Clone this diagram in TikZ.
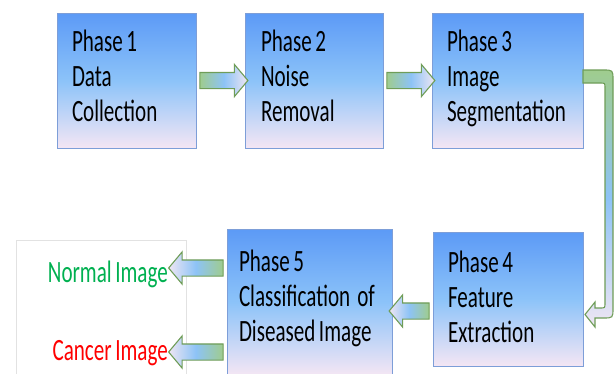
\documentclass[tikz,border=0pt]{standalone}
\usepackage{fontspec}
\usepackage{xcolor}
\usepackage{tikz}
\usetikzlibrary{calc, shapes.arrows}
\newfontfamily\phasefont[FakeStretch=0.68, WordSpace=0.75]{Carlito}

\definecolor{boxtop}{HTML}{5C9AF6}
\definecolor{boxmid}{HTML}{8CC3F9}
\definecolor{boxbot}{HTML}{F4E6F4}
\definecolor{boxedge}{HTML}{7D9ED8}
\definecolor{arrowedge}{HTML}{6F9D58}
\definecolor{arrowgreen}{HTML}{9FCC8E}
\definecolor{arrowblue}{HTML}{8DC3F6}
\definecolor{arrowpale}{HTML}{EFE6F3}
\definecolor{normalgreen}{HTML}{00B050}
\definecolor{cancerred}{HTML}{FF0000}
\definecolor{frameline}{HTML}{E2E2E2}

\tikzset{
  phasebox/.style={draw=boxedge, line width=1pt, top color=boxtop, bottom color=boxbot,
    middle color=boxmid, align=flush left, inner xsep=15pt, inner ysep=2pt,
    minimum height=135pt, text depth=79pt, font=\phasefont\fontsize{31}{35}\selectfont},
  fatarrow/.style={single arrow, draw=arrowedge, line width=1.1pt, inner xsep=0pt,
    inner ysep=7.5pt, single arrow head extend=8pt, single arrow tip angle=100},
  fatright/.style={fatarrow, left color=arrowgreen, right color=arrowpale, middle color=arrowblue},
  fatleft/.style={fatarrow, left color=arrowpale, right color=arrowgreen, middle color=arrowblue},
  outlabel/.style={inner xsep=4pt, inner ysep=0pt, font=\phasefont\fontsize{31}{35}\selectfont},
}

\newcommand{\fatlink}[3][fatright]{%
  \path let \p1=(#2), \p2=(#3), \n1={veclen(\x2-\x1,\y2-\y1)} in
    (#2) -- (#3) node[midway, sloped, allow upside down, #1, minimum height=\n1] {};}

\begin{document}
\begin{tikzpicture}[x=1pt, y=-1pt]
  \useasboundingbox (0,0) rectangle (614,373);

  % phases
  \node[phasebox, text width=109pt] (p1) at (126.5,80.5) {Phase 1\\Data\\Collection};
  \node[phasebox, text width=106pt, inner xsep=16pt] (p2) at (314,80.5) {Phase 2\\Noise\\Removal};
  \node[phasebox, text width=121pt] (p3) at (507.5,80.5) {Phase 3\\Image\\Segmentation};
  \node[phasebox, text width=120pt, minimum height=134pt, text depth=74pt] (p4) at (508,299)
    {Phase 4\\Feature\\Extraction};
  \node[phasebox, text width=141pt, inner xsep=12pt, minimum height=146pt, text depth=82pt] (p5)
    at (309.5,302) {Phase 5\\Classification~~of\\Diseased Image};

  % results
  \node[draw=frameline, line width=0.8pt, minimum width=170pt, minimum height=136pt] (outbox)
    at (101,308) {};
  \node[outlabel, text=normalgreen, anchor=base east] (lnorm) at (172,282) {Normal Image};
  \node[outlabel, text=cancerred, anchor=base east] (lcanc) at (172,360) {Cancer Image};

  \coordinate (ynorm) at (0,268);
  \coordinate (ycanc) at (0,352);
  \coordinate (y45) at (0,311);

  \fatlink{p1.east}{p2.west}
  \fatlink{p2.east}{p3.west}
  \fatlink[fatleft]{p4.west |- y45}{p5.east |- y45}
  \fatlink[fatleft]{p5.west |- ynorm}{lnorm.east |- ynorm}
  \fatlink[fatleft]{p5.west |- ycanc}{lcanc.east |- ycanc}

  % phase 3 to phase 4
  \draw[draw=arrowedge, line width=1.1pt, top color=arrowgreen, bottom color=arrowpale,
    middle color=arrowblue]
    (583,70) -- (603,70) .. controls (613,70) .. (613,80) -- (613,308)
    .. controls (613,318) .. (603,318) -- (595,318) -- (595,327) -- (585,314.5)
    -- (595,302) -- (595,308) -- (600,308) .. controls (605,308) .. (605,303)
    -- (605,88) .. controls (605,83) .. (600,83) -- (583,83) -- cycle;
\end{tikzpicture}
\end{document}
